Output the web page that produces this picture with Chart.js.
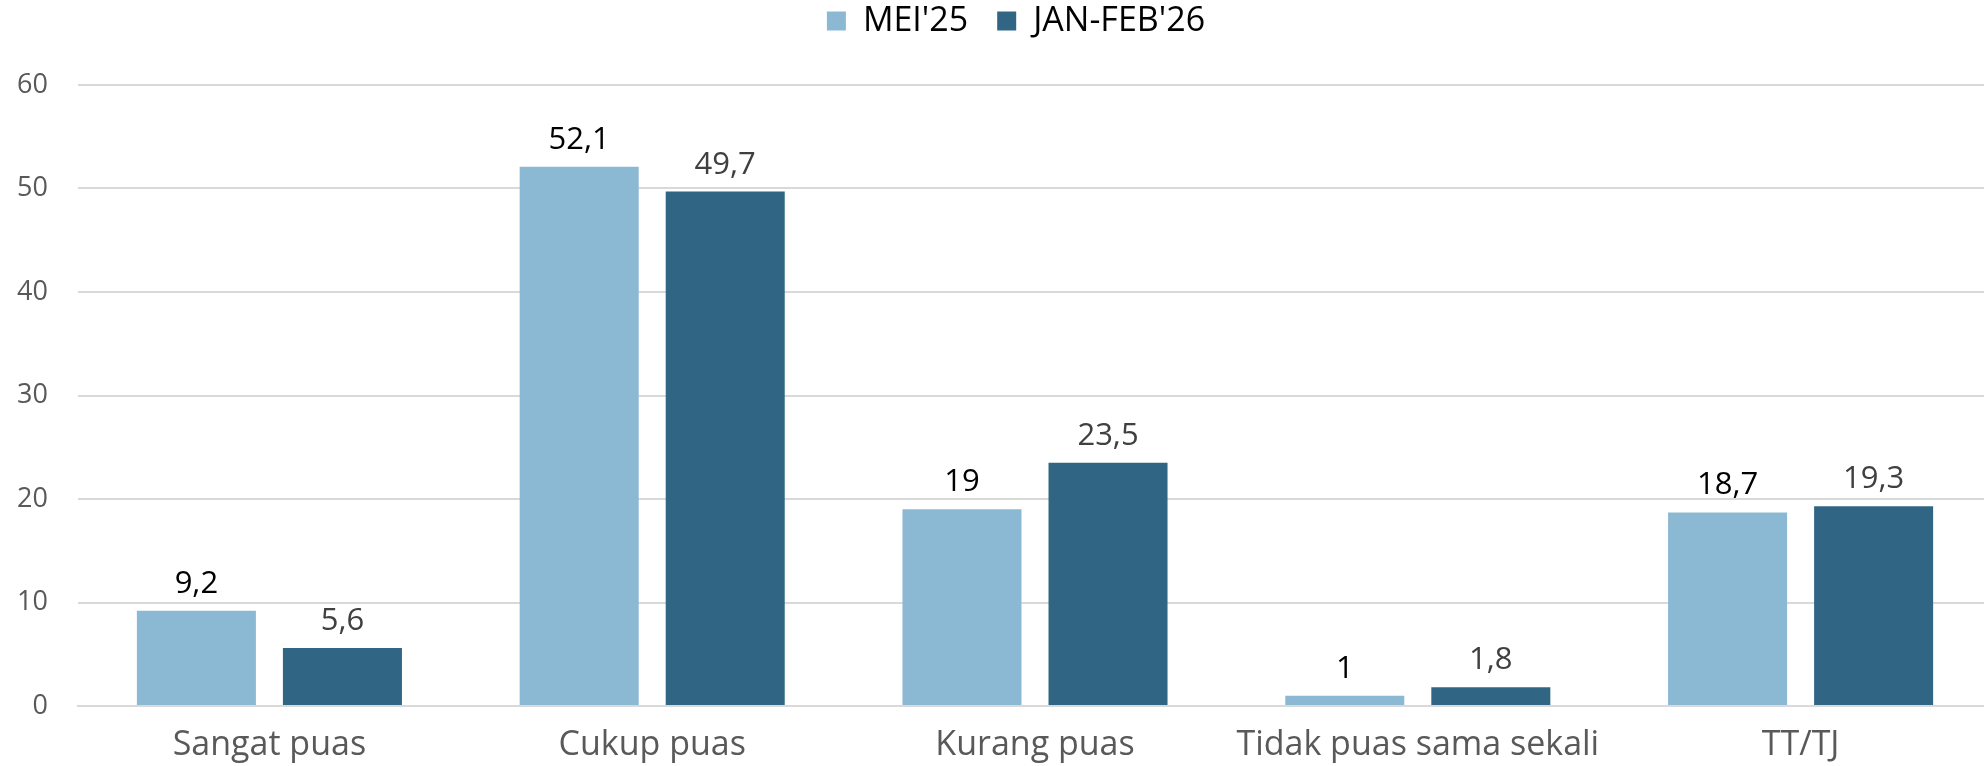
<!DOCTYPE html>
<html>
<head>
<meta charset="utf-8">
<script src="https://cdn.jsdelivr.net/npm/chart.js@4/dist/chart.umd.min.js"></script>
<style>
html,body{margin:0;padding:0;background:#fff;overflow:hidden;}
#wrap{width:1984px;height:766px;position:relative;overflow:hidden;}
</style>
</head>
<body>
<div id="wrap"><canvas id="c" width="1992" height="766"></canvas></div>
<script>
const categories = ["Sangat puas", "Cukup puas", "Kurang puas", "Tidak puas sama sekali", "TT/TJ"];
const seriesNames = ["MEI'25", "JAN-FEB'26"];
const mei25 = [9.2, 52.1, 19, 1, 18.7];
const janFeb26 = [5.6, 49.7, 23.5, 1.8, 19.3];
const yTicks = [0, 10, 20, 30, 40, 50, 60];

const FONT = "'Open Sans', 'Lato', sans-serif";

const valueLabels = {
  id: 'valueLabels',
  afterDatasetsDraw(chart) {
    const ctx = chart.ctx;
    ctx.save();
    ctx.font = '31px ' + FONT;
    ctx.textAlign = 'center';
    ctx.textBaseline = 'alphabetic';
    chart.data.datasets.forEach((ds, di) => {
      const meta = chart.getDatasetMeta(di);
      ctx.fillStyle = di === 0 ? '#000000' : '#404040';
      meta.data.forEach((bar, i) => {
        const txt = String(ds.data[i]).replace('.', ',');
        ctx.fillText(txt, bar.x, bar.y - 18);
      });
    });
    ctx.restore();
  }
};

const legendSpace = {
  id: 'legendSpace',
  beforeInit(chart) {
    const orig = chart.legend.fit;
    chart.legend.fit = function () {
      orig.bind(chart.legend)();
      this.height = 85;
    };
  },
  afterLayout(chart) {
    chart.legend.top = -25;
    chart.legend.left += 20;
    chart.legend.right += 20;
  }
};

new Chart(document.getElementById('c'), {
  type: 'bar',
  data: {
    labels: categories,
    datasets: [
      { label: seriesNames[0], data: mei25, backgroundColor: '#8BB9D4', borderWidth: 0 },
      { label: seriesNames[1], data: janFeb26, backgroundColor: '#306684', borderWidth: 0 }
    ]
  },
  options: {
    responsive: false,
    animation: false,
    categoryPercentage: 0.763,
    barPercentage: 0.815,
    layout: { padding: { left: 0, right: 0, top: 0, bottom: 0 } },
    plugins: {
      legend: {
        position: 'top',
        labels: {
          font: { family: FONT, size: 34 },
          color: '#000000',
          boxWidth: 19,
          boxHeight: 19,
          padding: 29
        }
      },
      tooltip: { enabled: false }
    },
    scales: {
      x: {
        grid: { display: false, drawTicks: false },
        border: { display: true, color: '#d9d9d9', width: 2 },
        afterFit(axis) { axis.height = 60; },
        ticks: { font: { family: FONT, size: 34 }, color: '#595959', padding: 19 }
      },
      y: {
        min: 0, max: 60,
        afterBuildTicks(axis) { axis.ticks = yTicks.map(v => ({ value: v })); },
        afterFit(axis) { axis.width = 78; },
        grid: { color: '#d9d9d9', lineWidth: 2, drawTicks: false },
        border: { display: false },
        ticks: { font: { family: FONT, size: 27 }, color: '#595959', padding: 30 }
      }
    }
  },
  plugins: [valueLabels, legendSpace]
});
</script>
</body>
</html>
